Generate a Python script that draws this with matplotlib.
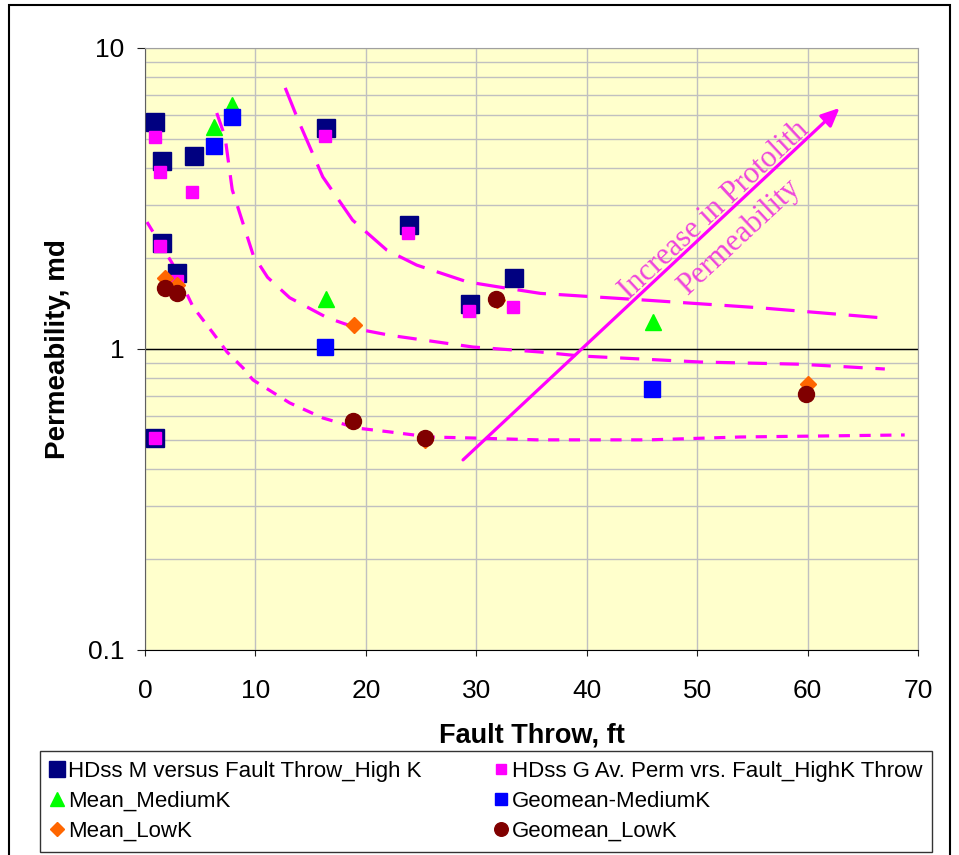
import matplotlib
matplotlib.use('Agg')
from matplotlib import pyplot as plt
from matplotlib.patches import Rectangle
from matplotlib.ticker import FixedLocator, NullFormatter

# HDss M versus Fault Throw_High K
hk_m_x = [0.9, 1.5, 1.5, 2.9, 4.4, 16.4, 23.9, 29.4, 33.4, 0.9]
hk_m_y = [5.68, 4.21, 2.25, 1.79, 4.38, 5.42, 2.58, 1.41, 1.72, 0.506]

# HDss G Av. Perm vrs. Fault_HighK Throw
hk_g_x = [0.9, 1.4, 4.3, 1.4, 2.9, 0.9, 16.3, 23.8, 29.3, 33.3]
hk_g_y = [5.06, 3.87, 3.32, 2.20, 1.68, 0.506, 5.10, 2.43, 1.34, 1.38]

mk_mean_x = [6.25, 7.9, 16.4, 46.0]
mk_mean_y = [5.47, 6.46, 1.47, 1.23]

mk_geo_x = [6.25, 7.9, 16.3, 45.9]
mk_geo_y = [4.72, 5.90, 1.015, 0.736]

lk_mean_x = [1.8, 2.9, 18.9, 31.9, 25.4, 60.0]
lk_mean_y = [1.72, 1.63, 1.20, 1.45, 0.50, 0.765]

lk_geo_x = [1.8, 2.9, 18.8, 25.4, 31.8, 59.9]
lk_geo_y = [1.59, 1.53, 0.577, 0.506, 1.47, 0.709]

# hand drawn trend curves
c1_x = [12.7, 13.86, 16.1, 18.8, 21.9, 24.6, 29.2, 31.9, 35.8, 45.7, 55.7, 66.6]
c1_y = [7.37, 5.77, 3.73, 2.68, 2.13, 1.90, 1.67, 1.61, 1.53, 1.45, 1.37, 1.27]

c2_x = [6.5, 7.25, 7.9, 9.06, 9.8, 11.1, 13.1, 16.5, 19.7, 22.2, 29.7, 35.8, 39.4, 50.3, 59.3, 67.0]
c2_y = [6.08, 5.06, 3.38, 2.49, 2.05, 1.73, 1.48, 1.27, 1.156, 1.11, 1.015, 0.977, 0.948, 0.905, 0.89, 0.858]

c3_x = [0.18, 0.72, 2.45, 3.62, 4.35, 6.16, 7.43, 8.88, 9.78, 13.1, 16.1, 19.2, 22.2, 25.8, 29.7, 35.5, 45.7, 53.9, 68.8]
c3_y = [2.64, 2.45, 1.93, 1.57, 1.38, 1.13, 0.977, 0.865, 0.789, 0.662, 0.590, 0.546, 0.530, 0.510, 0.506, 0.499, 0.499, 0.510, 0.518]

arrow_start = (28.8, 0.428)
arrow_end = (62.9, 6.32)

plt.rcParams['font.family'] = ['Liberation Sans', 'DejaVu Sans']

fig = plt.figure(figsize=(9.59, 8.55), dpi=100)
ax = fig.add_axes([0.1512, 0.2398, 0.806, 0.7041])
ax.set_facecolor('#FFFFCC')

ax.set_yscale('log')
ax.set_xlim(0, 70)
ax.set_ylim(0.1, 10)

ax.set_xticks(range(0, 71, 10))
ax.set_yticks([0.1, 1, 10])
ax.set_yticklabels(['0.1', '1', '10'])
ax.yaxis.set_minor_locator(FixedLocator([m * 10.0 ** k for k in (-1, 0) for m in range(2, 10)]))
ax.yaxis.set_minor_formatter(NullFormatter())
ax.tick_params(axis='both', which='major', labelsize=19, color='#202020', direction='out')
ax.tick_params(axis='y', which='major', length=6, pad=9)
ax.tick_params(axis='y', which='minor', length=0)
ax.tick_params(axis='x', which='major', length=4, pad=17)

ax.grid(True, which='major', color='#C0C0C0', linewidth=1)
ax.grid(True, which='minor', axis='y', color='#C0C0C0', linewidth=1)
ax.set_axisbelow(True)
for s in ax.spines.values():
    s.set_color('#A0A0A0')
ax.spines['left'].set_color('#606060')
ax.spines['bottom'].set_color('black')
ax.axhline(1, color='black', linewidth=1, zorder=1.5)

ax.set_xlabel('Fault Throw, ft', fontsize=19.5, fontweight='bold', labelpad=14)
ax.set_ylabel('Permeability, md', fontsize=20, fontweight='bold', labelpad=12)

# trend curves
ax.plot(c1_x, c1_y, color='#FF00FF', linewidth=2.3, dashes=(9, 4), zorder=2)
ax.plot(c2_x, c2_y, color='#FF00FF', linewidth=2.3, dashes=(6, 4), zorder=2)
ax.plot(c3_x, c3_y, color='#FF00FF', linewidth=2.3, dashes=(3.5, 3), zorder=2)

ax.annotate('', xy=arrow_end, xytext=arrow_start,
            arrowprops=dict(arrowstyle='-|>,head_length=1.1,head_width=0.5',
                            color='#FF00FF', linewidth=2.3, shrinkA=0, shrinkB=0),
            zorder=2)
ax.text(0.736, 0.73, 'Increase in Protolith', transform=ax.transAxes,
        rotation=43, rotation_mode='anchor', ha='center', va='center',
        fontsize=22, color='#EE44DD', family=['Liberation Serif'])
ax.text(0.769, 0.685, 'Permeability', transform=ax.transAxes,
        rotation=43, rotation_mode='anchor', ha='center', va='center',
        fontsize=22, color='#EE44DD', family=['Liberation Serif'])

h1, = ax.plot(hk_m_x, hk_m_y, 's', color='#000080', markersize=13.5, linestyle='none',
              label='HDss M versus Fault Throw_High K', zorder=3)
h2, = ax.plot(hk_g_x, hk_g_y, 's', color='#FF00FF', markersize=9, linestyle='none',
              label='HDss G Av. Perm vrs. Fault_HighK Throw', zorder=3)
h3, = ax.plot(mk_mean_x, mk_mean_y, '^', color='#00FF00', markersize=12, linestyle='none',
              label='Mean_MediumK', zorder=3)
h4, = ax.plot(mk_geo_x, mk_geo_y, 's', color='#0000FF', markersize=11, linestyle='none',
              label='Geomean-MediumK', zorder=3)
h5, = ax.plot(lk_mean_x, lk_mean_y, 'D', color='#FF6600', markersize=8.5, linestyle='none',
              label='Mean_LowK', zorder=3)
h6, = ax.plot(lk_geo_x, lk_geo_y, 'o', color='#800000', markersize=11.5, linestyle='none',
              label='Geomean_LowK', zorder=3)

handles = [h1, h3, h5, h2, h4, h6]
leg = fig.legend(handles, [h.get_label() for h in handles], ncol=2,
                 loc='lower left', bbox_to_anchor=(0.042, 0.004, 0.93, 0.119),
                 mode='expand', fontsize=16, frameon=True, fancybox=False,
                 handlelength=0.6, handletextpad=0.2, labelspacing=0.4,
                 borderaxespad=0, borderpad=0.45, markerscale=0.85, columnspacing=1.0)
leg.get_frame().set_edgecolor('black')
leg.get_frame().set_linewidth(1)

fig.patches.append(Rectangle((0.009, -0.01), 0.982, 1.004, transform=fig.transFigure,
                             fill=False, edgecolor='black', linewidth=1.5))

fig.savefig('out.png', dpi=100)
